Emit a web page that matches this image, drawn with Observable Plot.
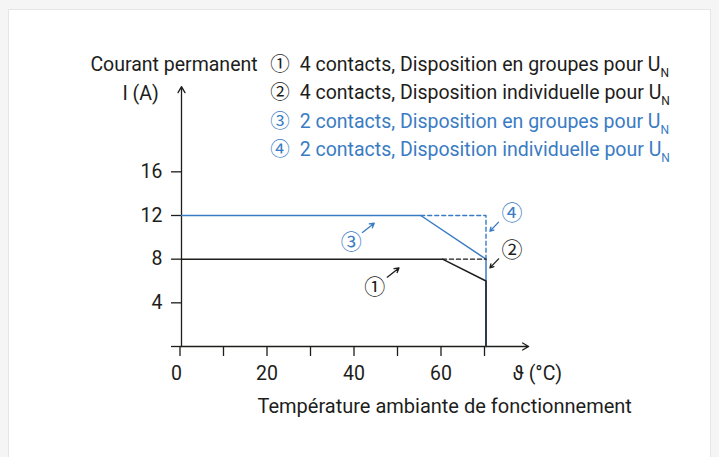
<!DOCTYPE html>
<html><head><meta charset="utf-8">
<script src="https://cdn.jsdelivr.net/npm/d3@7"></script>
<script src="https://cdn.jsdelivr.net/npm/@observablehq/plot@0.6"></script>
<style>
html,body{margin:0;padding:0;background:#f5f5f5;}
#wrap{position:relative;width:719px;height:457px;overflow:hidden;}
#card{position:absolute;left:8px;top:9px;width:701px;height:470px;background:#fff;border:1px solid #e6e6e6;}
#chart{position:absolute;left:0;top:0;}
</style></head><body>
<div id="wrap"><div id="card"></div><div id="chart"></div></div>
<script>
// ① 4 contacts, groupes
const temps1 = [0, 60, 70, 70];
const current1 = [8, 8, 6, 0];
// ② 4 contacts, individuelle (dashed extension)
const temps2 = [60, 70];
const current2 = [8, 8];
// ③ 2 contacts, groupes
const temps3 = [0, 55, 70, 70];
const current3 = [12, 12, 8, 0];
// ④ 2 contacts, individuelle (dashed extension)
const temps4 = [55, 70, 70];
const current4 = [12, 12, 8];

const xTicks = [0, 10, 20, 30, 40, 50, 60, 70];
const xTickLabels = [0, 20, 40, 60];
const yTicks = [0, 4, 8, 12, 16];
const yTickLabels = [4, 8, 12, 16];

const legendLabels = [
  "①\u20024 contacts, Disposition en groupes pour U_N",
  "②\u20024 contacts, Disposition individuelle pour U_N",
  "③\u20022 contacts, Disposition en groupes pour U_N",
  "④\u20022 contacts, Disposition individuelle pour U_N"
];
const legendGroup = ["black", "black", "blue", "blue"];
const markerLabels = ["①", "②", "③", "④"];

const yTitle = ["Courant permanent", "I (A)"];
const xUnit = "ϑ (°C)";
const xTitle = "Température ambiante de fonctionnement";

const BLACK = "#1d1d1b";
const BLUE = "#3a7cc3";
const FONT = "Roboto, 'Noto Sans CJK JP', 'DejaVu Sans', sans-serif";
const FS = 19.5;

const pts = (xs, ys) => xs.map((x, i) => ({x, y: ys[i]}));

// annotation markers: label position and arrow (data coords)
const ann = [
  {label: markerLabels[0], color: BLACK, tx: 44.4, ty: 5.43, x1: 47.3, y1: 6.35, x2: 50.0, y2: 7.2},
  {label: markerLabels[1], color: BLACK, tx: 76.0, ty: 8.85, x1: 72.9, y1: 8.03, x2: 70.9, y2: 7.2},
  {label: markerLabels[2], color: BLUE, tx: 39.0, ty: 9.56, x1: 41.6, y1: 10.45, x2: 44.3, y2: 11.3},
  {label: markerLabels[3], color: BLUE, tx: 76.0, ty: 12.2, x1: 72.9, y1: 11.39, x2: 70.9, y2: 10.56}
];

const plot = Plot.plot({
  width: 719, height: 457,
  marginLeft: 181, marginRight: 190, marginTop: 84, marginBottom: 111,
  x: {domain: [0, 80]},
  y: {domain: [0, 24]},
  style: {background: "transparent", fontFamily: FONT, fontSize: FS + "px", color: BLACK},
  marks: [
    // axes ticks and labels
    Plot.axisX({ticks: xTicks, tickSize: 10, tickPadding: 10, strokeWidth: 1.3, fontSize: FS,
      tickFormat: d => (xTickLabels.includes(d) && d !== 0) ? String(d) : "", label: null, dx: -1.5}),
    Plot.axisY({ticks: yTicks, tickSize: 10, tickPadding: 9, strokeWidth: 1.3, fontSize: FS,
      tickFormat: d => yTickLabels.includes(d) ? String(d) : "", label: null}),
    Plot.text([xTickLabels[0]], {x: d => d, y: () => 0, text: d => String(d), dx: -5, dy: 27, fontSize: FS, fill: BLACK}),
    // axis lines with arrows
    Plot.arrow([{x1: 0, y1: 0, x2: 0, y2: 23.8}], {x1: "x1", y1: "y1", x2: "x2", y2: "y2", stroke: BLACK, strokeWidth: 1.3, headLength: 8, insetEnd: 0}),
    Plot.arrow([{x1: 0, y1: 0, x2: 79.8, y2: 0}], {x1: "x1", y1: "y1", x2: "x2", y2: "y2", stroke: BLACK, strokeWidth: 1.3, headLength: 8, insetEnd: 0}),
    // curves
    Plot.line(pts(temps3, current3), {x: "x", y: "y", stroke: BLUE, strokeWidth: 1.5}),
    Plot.line(pts(temps4, current4), {x: "x", y: "y", stroke: BLUE, strokeWidth: 1.4, strokeDasharray: "4,3"}),
    Plot.line(pts(temps1, current1), {x: "x", y: "y", stroke: BLACK, strokeWidth: 1.5}),
    Plot.line(pts(temps2, current2), {x: "x", y: "y", stroke: BLACK, strokeWidth: 1.4, strokeDasharray: "4,3"}),
    // annotations
    Plot.arrow(ann, {x1: "x1", y1: "y1", x2: "x2", y2: "y2", stroke: d => d.color, strokeWidth: 1.3, headLength: 7, insetEnd: 0}),
    Plot.text(ann, {x: "tx", y: "ty", text: "label", fill: d => d.color, fontSize: 21}),
    // y title
    Plot.text([yTitle[0]], {x: () => 17.5, y: () => 25.83, text: d => d, textAnchor: "end", fill: BLACK, fontSize: FS}),
    Plot.text([yTitle[1]], {x: () => -9.4, y: () => 23.15, text: d => d, fill: BLACK, fontSize: FS}),
    // x unit and title
    Plot.text([xUnit], {x: () => 81.8, y: () => -2.46, text: d => d, fill: BLACK, fontSize: FS}),
    Plot.text([xTitle], {x: () => 60.5, y: () => -5.55, text: d => d, fill: BLACK, fontSize: 20}),
    // legend
    Plot.text(legendLabels.map((t, i) => ({t, i, g: legendGroup[i]})), {
      x: () => 20.4, y: d => 25.83 - d.i * 2.61, text: "t", textAnchor: "start",
      fill: d => d.g === "blue" ? BLUE : BLACK, fontSize: FS})
  ],
  color: {type: "identity"}
});

// subscript N
plot.querySelectorAll("text").forEach(t => {
  if (t.childElementCount === 0 && t.textContent.includes("_")) {
    const [a, b] = t.textContent.split("_");
    t.textContent = a;
    const ts = document.createElementNS("http://www.w3.org/2000/svg", "tspan");
    ts.setAttribute("dy", "6");
    ts.setAttribute("font-size", "12");
    ts.textContent = b;
    t.appendChild(ts);
  }
});
document.getElementById("chart").appendChild(plot);
</script>
</body></html>
